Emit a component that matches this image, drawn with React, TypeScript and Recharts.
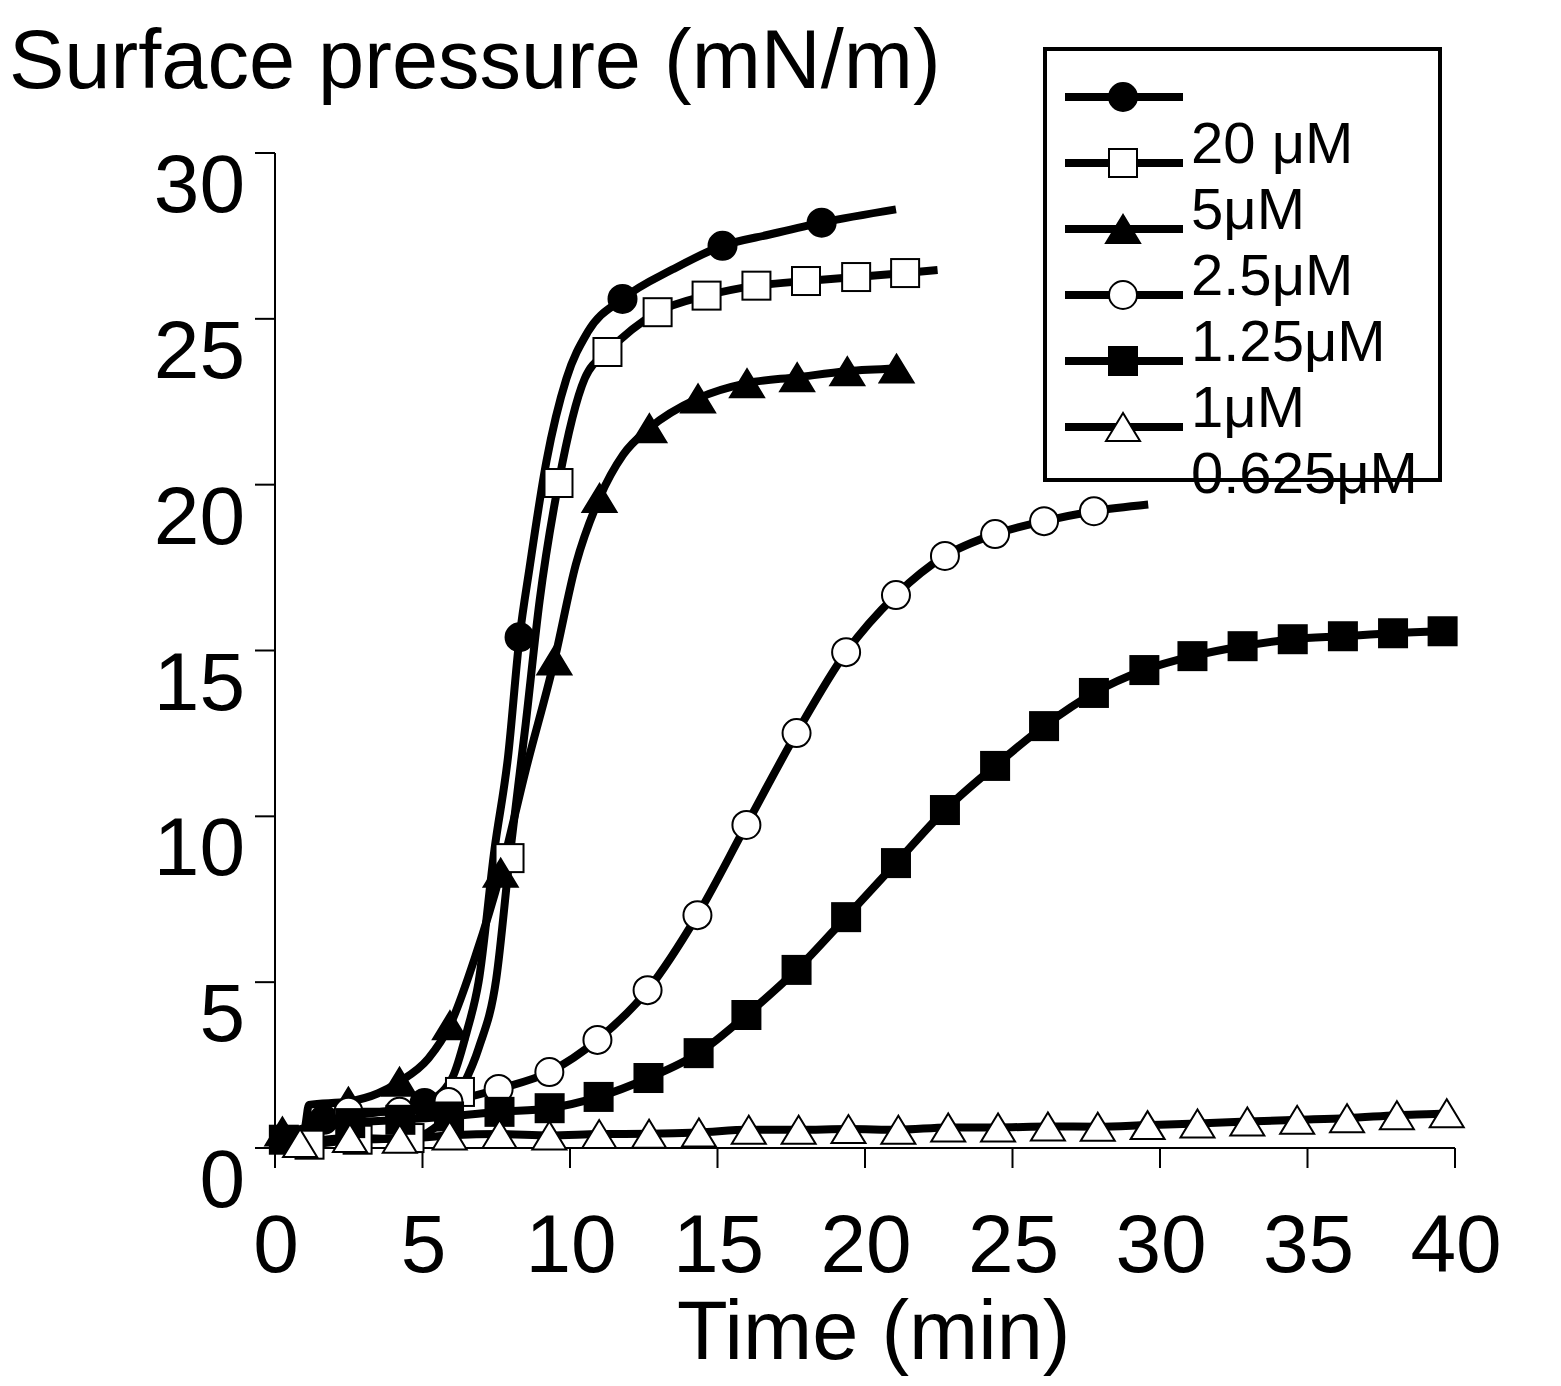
import { ComposedChart, Legend, Line, XAxis, YAxis } from 'recharts'

type Pt = [number, number]
type Shape = 'circle' | 'square' | 'triangle'

const xTicks = [0, 5, 10, 15, 20, 25, 30, 35, 40]
const yTicks = [0, 5, 10, 15, 20, 25, 30]
const legendLabels = ['20 μM', '5μM', '2.5μM', '1.25μM', '1μM', '0.625μM']

// filled circles
const fcMarks: Pt[] = [
  [1.65, 0.85], [5.07, 1.36], [8.29, 15.4], [11.78, 25.6], [15.17, 27.2], [18.53, 27.9],
]
const fcCurve: Pt[] = [
  [1.0, 0.3], [1.3, 0.7], [3.3, 1.05], [6.0, 2.1], [6.5, 3.5], [6.9, 5.0], [7.44, 9.0],
  [7.9, 11.8], [8.63, 17.5], [9.2, 20.7], [9.88, 23.2], [10.6, 24.6], [13.5, 26.5],
  [16.8, 27.55], [21.05, 28.3],
]

// open squares
const osMarks: Pt[] = [
  [1.17, 0.1], [2.8, 0.25], [4.56, 0.3], [6.27, 1.69], [7.95, 8.74], [9.61, 20.05],
  [11.27, 24.0], [12.97, 25.2], [14.63, 25.7], [16.32, 26.0], [18.0, 26.14], [19.7, 26.26],
  [21.36, 26.38],
]
const osCurve: Pt[] = [
  [5.4, 0.6], [5.9, 1.05], [6.9, 3.0], [7.5, 5.1], [8.5, 12.8], [8.97, 16.5], [10.5, 23.2],
  [22.46, 26.47],
]

// filled triangles
const ftMarks: Pt[] = [
  [0.25, 0.5], [2.49, 1.4], [4.22, 2.0], [5.93, 3.7], [7.65, 8.3], [9.47, 14.7],
  [11.0, 19.6], [12.69, 21.7], [14.34, 22.6], [16.0, 23.06], [17.7, 23.24], [19.4, 23.42],
  [21.07, 23.5],
]
const ftCurve: Pt[] = [
  [1.0, 0.6], [1.15, 1.3], [3.5, 1.65], [5.2, 2.7], [6.8, 5.8], [8.5, 11.4], [10.2, 17.6],
  [11.8, 20.9],
]

// open circles
const ocMarks: Pt[] = [
  [2.49, 1.09], [4.22, 1.09], [5.88, 1.39], [7.58, 1.78], [9.3, 2.29], [10.93, 3.26],
  [12.63, 4.76], [14.32, 7.02], [15.98, 9.74], [17.68, 12.51], [19.36, 14.95], [21.05, 16.67],
  [22.71, 17.85], [24.41, 18.51], [26.07, 18.9], [27.76, 19.2],
]
const ocCurve: Pt[] = [[1.0, 0.4], [1.5, 0.85], [29.6, 19.4]]

// filled squares
const fsMarks: Pt[] = [
  [0.3, 0.25], [2.55, 0.75], [4.25, 0.85], [5.9, 0.95], [7.61, 1.09], [9.31, 1.2],
  [10.97, 1.54], [12.66, 2.11], [14.36, 2.86], [15.98, 4.01], [17.68, 5.37], [19.36, 6.96],
  [21.05, 8.59], [22.71, 10.19], [24.41, 11.52], [26.07, 12.72], [27.76, 13.72], [29.47, 14.41],
  [31.1, 14.83], [32.8, 15.13], [34.5, 15.34], [36.2, 15.43], [37.9, 15.52], [39.58, 15.58],
]
const fsCurve: Pt[] = [[1.1, 0.3], [1.5, 0.6]]

// open triangles
const otMarks: Pt[] = [
  [0.85, 0.15], [2.54, 0.3], [4.23, 0.28], [5.92, 0.38], [7.61, 0.42], [9.3, 0.38],
  [10.99, 0.42], [12.68, 0.43], [14.37, 0.47], [16.06, 0.55], [17.75, 0.55], [19.44, 0.57],
  [21.13, 0.55], [22.82, 0.62], [24.51, 0.62], [26.2, 0.65], [27.89, 0.64], [29.58, 0.69],
  [31.27, 0.74], [32.96, 0.8], [34.65, 0.85], [36.34, 0.9], [38.03, 0.99], [39.72, 1.05],
]
const otCurve: Pt[] = [[39.95, 1.08]]

const FONT = '"Liberation Sans", Arial, sans-serif'

const series: { id: string; marks: Pt[]; curve: Pt[]; shape: Shape; filled: boolean }[] = [
  { id: 'fc', marks: fcMarks, curve: fcCurve, shape: 'circle', filled: true },
  { id: 'os', marks: osMarks, curve: osCurve, shape: 'square', filled: false },
  { id: 'ft', marks: ftMarks, curve: ftCurve, shape: 'triangle', filled: true },
  { id: 'oc', marks: ocMarks, curve: ocCurve, shape: 'circle', filled: false },
  { id: 'fs', marks: fsMarks, curve: fsCurve, shape: 'square', filled: true },
  { id: 'ot', marks: otMarks, curve: otCurve, shape: 'triangle', filled: false },
]

function toRows(marks: Pt[], curve: Pt[]) {
  return [
    ...marks.map(([t, v]) => ({ t, v, m: true })),
    ...curve.map(([t, v]) => ({ t, v, m: false })),
  ].sort((a, b) => a.t - b.t)
}

function Marker({ shape, filled, cx, cy }: { shape: Shape; filled: boolean; cx: number; cy: number }) {
  const fill = filled ? '#000' : '#fff'
  if (shape === 'circle') {
    return <circle cx={cx} cy={cy} r={14} fill={fill} stroke="#000" strokeWidth={2} />
  }
  if (shape === 'square') {
    const s = 28
    return <rect x={cx - s / 2} y={cy - s / 2} width={s} height={s} fill={fill} stroke="#000" strokeWidth={2} />
  }
  const w = 34
  const h = 28
  const pts = `${cx},${cy - h / 2} ${cx - w / 2},${cy + h / 2} ${cx + w / 2},${cy + h / 2}`
  return <polygon points={pts} fill={fill} stroke="#000" strokeWidth={2} strokeLinejoin="miter" />
}

function YTick({ x, y, payload }: any) {
  return (
    <text x={x - 10} y={y + 59} textAnchor="end" fontSize={82} fontFamily={FONT} fill="#000">
      {payload.value}
    </text>
  )
}

function XTick({ x, y, payload }: any) {
  return (
    <text x={x + 1} y={y + 104} textAnchor="middle" fontSize={82} fontFamily={FONT} fill="#000">
      {payload.value}
    </text>
  )
}

function LegendBox() {
  return (
    <svg width={420} height={470} style={{ display: 'block', overflow: 'visible' }}>
      <rect x={2} y={2} width={395} height={431} fill="#fff" stroke="#000" strokeWidth={4} />
      {series.map((s, i) => {
        const y = 50 + 66 * i
        return (
          <g key={s.id}>
            <line x1={22} x2={140} y1={y} y2={y} stroke="#000" strokeWidth={8} />
            <Marker shape={s.shape} filled={s.filled} cx={80} cy={y} />
          </g>
        )
      })}
      {legendLabels.map((label, i) => (
        <text key={label} x={148} y={116 + 66 * i} fontSize={58} fontFamily={FONT} fill="#000">
          {label}
        </text>
      ))}
    </svg>
  )
}

export default function App() {
  return (
    <div style={{ width: 1553, height: 1378, position: 'relative', fontFamily: FONT }}>
      <ComposedChart width={1553} height={1378} margin={{ top: 145, right: 106, bottom: 138, left: 167 }}>
        <XAxis
          type="number"
          dataKey="t"
          domain={[0, 40]}
          ticks={xTicks}
          height={100}
          tickSize={20}
          tickMargin={0}
          axisLine={{ stroke: '#000', strokeWidth: 2 }}
          tickLine={{ stroke: '#000', strokeWidth: 2 }}
          tick={<XTick />}
          label={{
            content: () => (
              <text x={669} y={1351} fontSize={83} fontFamily={FONT} fill="#000">
                Time (min)
              </text>
            ),
          }}
        />
        <YAxis
          type="number"
          dataKey="v"
          domain={[0, 30]}
          ticks={yTicks}
          width={100}
          tickSize={20}
          tickMargin={0}
          axisLine={{ stroke: '#000', strokeWidth: 2 }}
          tickLine={{ stroke: '#000', strokeWidth: 2 }}
          tick={<YTick />}
          label={{
            content: () => (
              <text x={1} y={80} fontSize={83} fontFamily={FONT} fill="#000">
                Surface pressure (mN/m)
              </text>
            ),
          }}
        />
        {series.map((s) => (
          <Line
            key={s.id}
            data={toRows(s.marks, s.curve)}
            dataKey="v"
            type="monotone"
            stroke="#000"
            strokeWidth={8}
            strokeLinejoin="round"
            isAnimationActive={false}
            activeDot={false}
            legendType="none"
            dot={(p: any) =>
              p.payload.m ? (
                <g key={`${s.id}-${p.index}`}>
                  <Marker shape={s.shape} filled={s.filled} cx={p.cx} cy={p.cy} />
                </g>
              ) : (
                <g key={`${s.id}-${p.index}`} />
              )
            }
          />
        ))}
        <Legend
          layout="horizontal"
          verticalAlign="middle"
          align="center"
          content={() => <LegendBox />}
          wrapperStyle={{ left: 1035, top: 39, width: 420, height: 470 }}
        />
      </ComposedChart>
    </div>
  )
}
